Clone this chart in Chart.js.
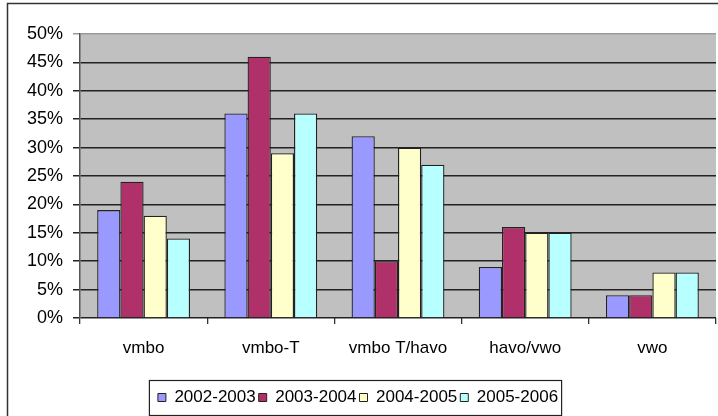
<!DOCTYPE html>
<html>
<head>
<meta charset="utf-8">
<script src="https://cdn.jsdelivr.net/npm/chart.js@4"></script>
<style>
  html, body { margin: 0; padding: 0; background: #fff; }
  #wrap { position: relative; width: 718px; height: 416px; }
</style>
</head>
<body>
<div id="wrap"><canvas id="chart" width="718" height="416"></canvas></div>
<script>
// chart data
const categories = ['vmbo', 'vmbo-T', 'vmbo T/havo', 'havo/vwo', 'vwo'];
const seriesNames = ['2002-2003', '2003-2004', '2004-2005', '2005-2006'];
const values2002 = [19, 36, 32, 9, 4];
const values2003 = [24, 46, 10, 16, 4];
const values2004 = [18, 29, 30, 15, 8];
const values2005 = [14, 36, 27, 15, 8];
const yTicks = [0, 5, 10, 15, 20, 25, 30, 35, 40, 45, 50];

const colors = ['#9999ff', '#b0306a', '#ffffcc', '#b8ffff'];
const FONT = "'Liberation Sans', Arial, sans-serif";

// gray plot area + outer frame + legend frame
const frames = {
  id: 'frames',
  beforeDraw(chart) {
    const { ctx, chartArea: a } = chart;
    ctx.save();
    ctx.fillStyle = '#c0c0c0';
    ctx.fillRect(a.left, a.top, a.right - a.left, a.bottom - a.top);
    ctx.restore();
  },
  afterDraw(chart) {
    const ctx = chart.ctx;
    ctx.save();
    ctx.strokeStyle = '#333';
    ctx.lineWidth = 1.5;
    ctx.strokeRect(7.5, 3.5, 800, 800);

    const boxes = chart.legend.legendHitBoxes;
    if (boxes && boxes.length) {
      const l = Math.min(...boxes.map(b => b.left));
      const r = Math.max(...boxes.map(b => b.left + b.width));
      const t = Math.min(...boxes.map(b => b.top));
      const bt = Math.max(...boxes.map(b => b.top + b.height));
      ctx.lineWidth = 1.2;
      ctx.strokeStyle = '#222';
      ctx.strokeRect(l - 8.5, t - 8.5, r - l + 12, bt - t + 18);
    }
    ctx.restore();
  }
};

new Chart(document.getElementById('chart'), {
  type: 'bar',
  data: {
    labels: categories,
    datasets: [values2002, values2003, values2004, values2005].map((vals, i) => ({
      label: seriesNames[i],
      data: vals,
      backgroundColor: colors[i],
      borderColor: '#222',
      borderWidth: 1.3,
      borderSkipped: 'bottom',
      barPercentage: 1,
      categoryPercentage: 0.73
    }))
  },
  options: {
    responsive: false,
    animation: false,
    layout: { padding: { left: 0, top: 34, right: 2, bottom: 0 } },
    plugins: {
      tooltip: { enabled: false },
      legend: {
        position: 'bottom',
        labels: {
          font: { family: FONT, size: 17 },
          color: '#000',
          boxWidth: 8,
          boxHeight: 8,
          padding: 3,
          useBorderRadius: false,
          generateLabels(chart) {
            return chart.data.datasets.map((ds, i) => ({
              text: ds.label,
              fillStyle: ds.backgroundColor,
              strokeStyle: '#222',
              lineWidth: 1,
              datasetIndex: i,
              fontColor: '#000'
            }));
          }
        }
      }
    },
    scales: {
      x: {
        offset: true,
        afterFit(s) { s.height = 68; },
        grid: {
          offset: true,
          drawOnChartArea: false,
          drawTicks: true,
          tickLength: 6,
          color: '#333',
          lineWidth: 1.3
        },
        border: { display: false },
        ticks: {
          font: { family: FONT, size: 17 },
          color: '#000',
          padding: 14,
          maxRotation: 0
        }
      },
      y: {
        min: 0,
        max: 50,
        afterFit(s) { s.width = 80; },
        afterBuildTicks(s) { s.ticks = yTicks.map(v => ({ value: v })); },
        grid: {
          color: ctx => ctx.tick && ctx.tick.value === 50 ? '#9a9a9a' : '#222',
          lineWidth: 1.5,
          drawTicks: true,
          tickLength: 7
        },
        border: { display: true, color: '#555', width: 1.5 },
        ticks: {
          font: { family: FONT, size: 18 },
          color: '#000',
          padding: 10,
          callback: v => v + '%'
        }
      }
    }
  },
  plugins: [frames]
});
</script>
</body>
</html>
